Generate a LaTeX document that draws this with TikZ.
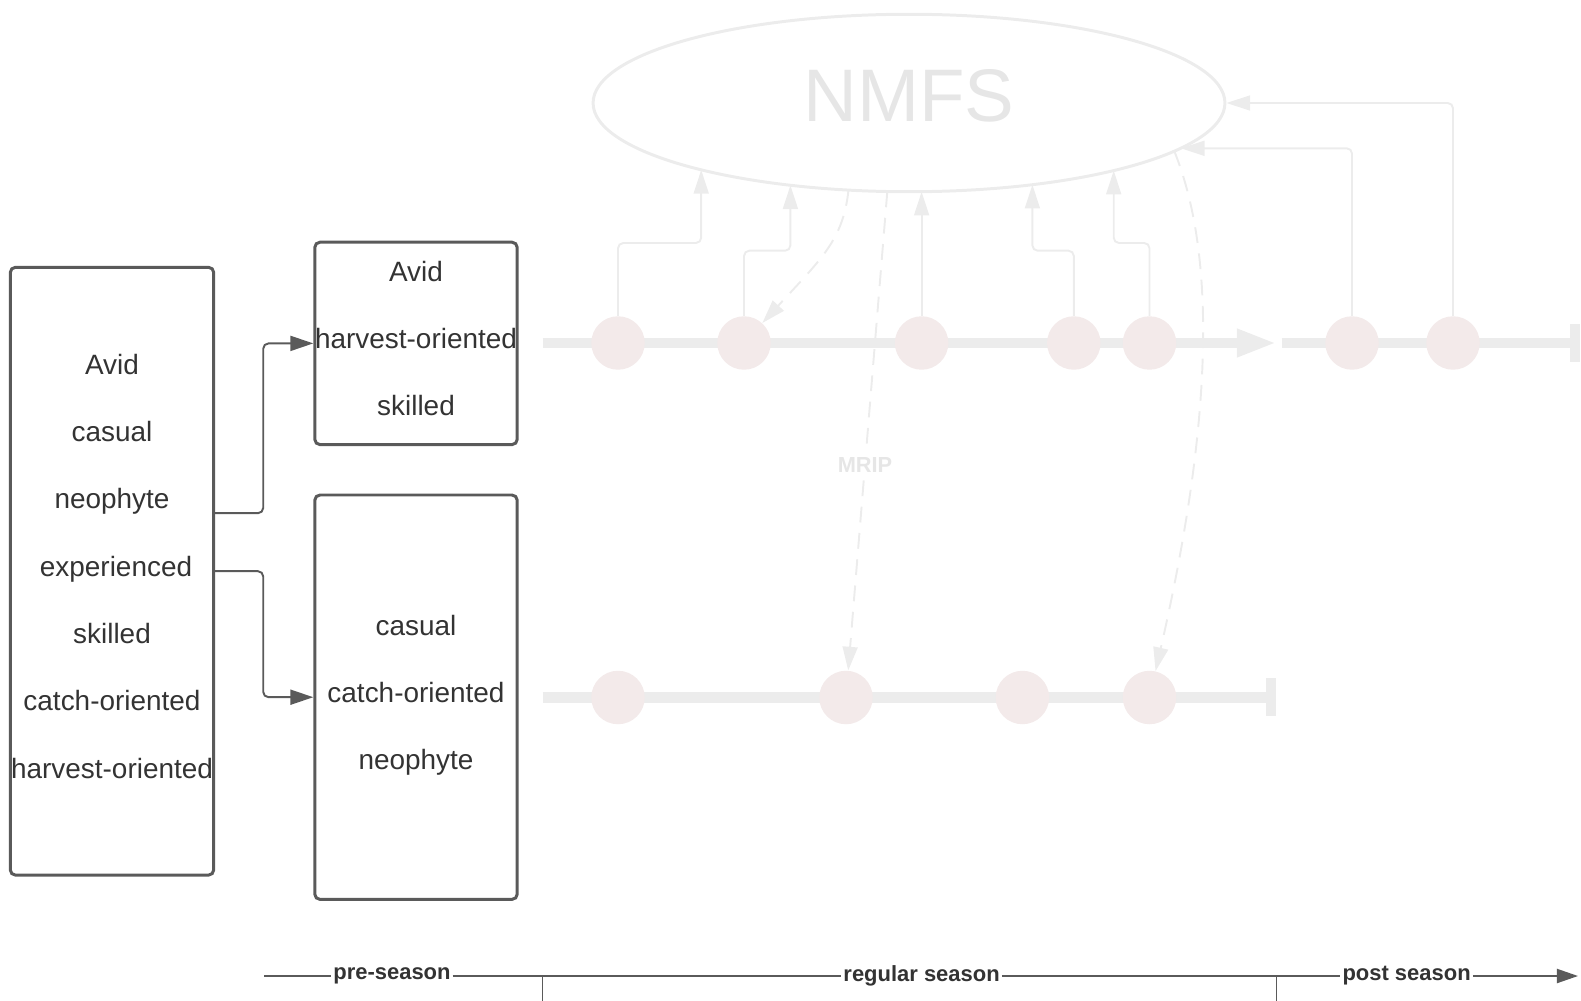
\documentclass[tikz,border=0pt]{standalone}
\usepackage{fontspec}
\setmainfont{Liberation Sans}
\usetikzlibrary{positioning,shapes.geometric,arrows.meta,calc}

\definecolor{boxgray}{RGB}{90,90,90}
\definecolor{textgray}{RGB}{51,51,51}
\definecolor{faint}{RGB}{236,236,236}
\definecolor{fainttext}{RGB}{230,230,230}
\definecolor{dotpink}{RGB}{243,234,234}

\begin{document}
\begin{tikzpicture}[
	x=0.02cm, y=-0.02cm,
	group/.style={draw=boxgray, line width=1.7pt, rounded corners=3pt, inner sep=0pt},
	names/.style={inner sep=0pt, align=center, text=textgray,
		font=\fontsize{15.9}{38.3}\selectfont},
	link/.style={draw=boxgray, line width=1.1pt, rounded corners=3pt,
		-{Triangle[length=13pt,width=8.5pt]}},
	agency/.style={ellipse, draw=faint, line width=1.7pt, minimum width=12.64cm,
		minimum height=3.55cm, inner sep=0pt},
	dot/.style={circle, fill=dotpink, minimum size=1.07cm, inner sep=0pt},
	season/.style={draw=faint, line width=5.8pt},
	report/.style={draw=faint, line width=1.1pt, rounded corners=3pt,
		-{Triangle[length=13.5pt,width=8.5pt]}},
	survey/.style={draw=faint, line width=1.1pt, dash pattern=on 9pt off 6pt,
		-{Triangle[length=13.5pt,width=8.5pt]}},
	axis/.style={draw=boxgray, line width=1.1pt},
	phase/.style={fill=white, inner sep=1pt, text=textgray,
		font=\bfseries\fontsize{12.5}{14}\selectfont}
	]
	\useasboundingbox (0,0) rectangle (1581,1000);

	% angler groups
	\node[group, minimum width=4.07cm, minimum height=12.16cm] (pool) at (112,571.2) {};
	\node[names] (poolnames) at ([yshift=0.1cm]pool.center)
	{Avid\\casual\\neophyte\\\hspace*{0.16cm}experienced\\skilled\\catch-oriented\\harvest-oriented};
	\node[group, minimum width=4.05cm, minimum height=4.05cm] (top) at (416,343.4) {};
	\node[names] (topnames) at ([yshift=0.1cm]top.center)
	{Avid\\harvest-oriented\\skilled};
	\node[group, minimum width=4.05cm, minimum height=8.09cm] (low) at (416,697.2) {};
	\node[names] (lownames) at ([yshift=0.04cm]low.center)
	{casual\\catch-oriented\\neophyte};
	\draw[link] ([yshift=1.16cm]pool.east) -- ++(48,0) |- (top.west);
	\draw[link] (pool.east) -- ++(48,0) |- (low.west);

	% agency
	\node[agency] (nmfs) at (909,103) {};
	\node[text=fainttext, font=\fontsize{42.4}{50}\selectfont] (nmfslabel)
	at ([yshift=0.14cm]nmfs.center) {NMFS};

	% timelines
	\coordinate (hvstart) at (542.5,343);
	\coordinate (hvgap) at (1276.7,343);
	\coordinate (hvresume) at (1281.7,343);
	\coordinate (hvend) at (1575,343);
	\draw[season, -{Triangle[length=22.7pt,width=14.7pt]}] (hvstart) -- (hvgap);
	\draw[season] (hvresume) -- (hvend);
	\draw[season] (1575,324) -- (1575,362);
	\coordinate (ctstart) at (542.5,697.5);
	\coordinate (ctend) at (1271.3,697.5);
	\draw[season] (ctstart) -- (ctend);
	\draw[season] (1271.3,678.3) -- (1271.3,716);
	\foreach \n/\x in {1/618,2/744,3/921.6,4/1073.8,5/1149.5,6/1352,7/1453}
		\node[dot] (hv\n) at (\x,343) {};
	\foreach \n/\x in {1/618,2/846,3/1022.4,4/1149.5}
		\node[dot] (ct\n) at (\x,697.5) {};

	% reports
	\draw[report] (hv1) -- ++(0,-100) -| ($(nmfs.center)+(-207.8,66.9)$);
	\draw[report] (hv2) -- ++(0,-92.3) -| ($(nmfs.center)+(-118.6,82.3)$);
	\draw[report] (hv3) -- ($(nmfs.center)+(12.6,88.7)$);
	\draw[report] (hv4) -- ++(0,-92.3) -| ($(nmfs.center)+(123.4,81.7)$);
	\draw[report] (hv5) -- ++(0,-100) -| ($(nmfs.center)+(204.7,67.6)$);
	\draw[report] (hv6) |- ($(nmfs.center)+(271.8,45.3)$);
	\draw[report] (hv7) |- (nmfs.east);

	% surveys
	\draw[survey] ($(nmfs.center)+(-60.5,87.1)$) .. controls (843,240) and (822,258) .. (hv2);
	\draw[survey] ($(nmfs.center)+(-21.7,88.5)$) -- node[pos=0.57, fill=white, inner sep=2pt,
		text=fainttext, font=\bfseries\fontsize{12.4}{14}\selectfont] (mrip) {MRIP} (ct2);
	\draw[survey] ($(nmfs.center)+(265.3,48.2)$) .. controls (1208,235) and (1222,380) .. (ct4);

	% season axis
	\coordinate (axstart) at (264,976);
	\node[phase] (pre) at (392,976) {pre-season};
	\node[phase] (reg) at (921.6,976) {regular season};
	\node[phase] (post) at (1406.6,976) {post season};
	\coordinate (axend) at (1578,976);
	\draw[axis] (axstart) -- (pre) -- (reg) -- (post);
	\draw[axis, -{Triangle[length=12pt,width=8pt]}] (post) -- (axend);
	\coordinate (preend) at (542.5,976);
	\coordinate (regend) at (1276.5,976);
	\draw[axis] (preend) -- ++(0,30);
	\draw[axis] (regend) -- ++(0,30);
\end{tikzpicture}
\end{document}
